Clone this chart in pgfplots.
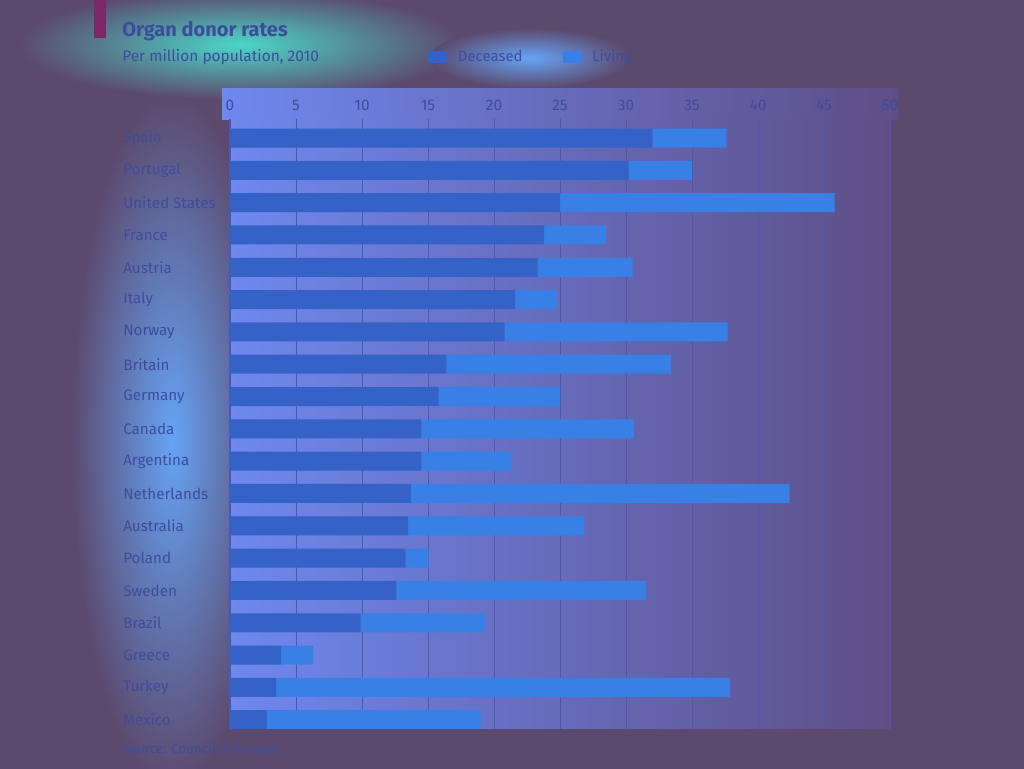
\documentclass[border=0pt]{standalone}
\usepackage{pgfplots}
\pgfplotsset{compat=1.18}
\usepackage{fontspec}
\setmainfont{Fira Sans}
\definecolor{bgc}{HTML}{5C4A6E}
\definecolor{glow}{HTML}{66A4F6}
\definecolor{glowc}{HTML}{4CD6C8}
\definecolor{plotl}{HTML}{6E88EE}
\definecolor{plotr}{HTML}{5E4E86}
\definecolor{dec}{HTML}{3462C6}
\definecolor{liv}{HTML}{3880E6}
\definecolor{txt}{HTML}{3E4C9E}
\definecolor{gridc}{HTML}{5056AA}
\definecolor{tag}{HTML}{7A2868}
\begin{document}
\begin{tikzpicture}
\begin{scope}[x=0.75pt,y=-0.75pt]
\useasboundingbox (0,0) rectangle (1024,768);
\fill[bgc] (-2,-2) rectangle (1026,770);
\begin{scope}
\clip (0,0) rectangle (1024,768);
\shade[inner color=glow,outer color=bgc] (172,440) ellipse [x radius=100,y radius=345];
\shade[inner color=glowc,outer color=bgc] (240,45) ellipse [x radius=220,y radius=55];
\shade[inner color=glow,outer color=bgc] (530,58) ellipse [x radius=100,y radius=30];
\shade[left color=plotl,right color=plotr] (222,88) rectangle (898,119);
\end{scope}
\fill[tag] (94,0) rectangle (106,38);
\node[anchor=west,inner sep=0,text=txt,font=\bfseries\fontsize{15}{17}\selectfont] at (122,31) {Organ donor rates};
\node[anchor=west,inner sep=0,text=txt,font=\fontsize{11.6}{13}\selectfont] at (122,57) {Per million population, 2010};
\node[anchor=west,inner sep=0,text=txt,font=\fontsize{10}{12}\selectfont] at (122,750) {Source: Council of Europe};
\end{scope}
\begin{axis}[
  at={(172.5pt,-88.95pt)}, anchor=north west,
  scale only axis, width=495pt, height=457.6pt,
  xbar stacked, bar width=14.25pt,
  xmin=0, xmax=50, ymin=-0.6, ymax=18.28,
  y dir=reverse,
  axis background/.style={left color=plotl,right color=plotr},
  axis x line*=top, axis y line*=left,
  x axis line style={draw=none},
  y axis line style={draw=gridc,line width=0.8pt},
  xtick={0,5,...,50},
  xticklabels={0,5,10,15,20,25,30,35,40,45,50},
  xmajorgrids, grid style={draw=gridc,line width=0.6pt},
  xtick style={draw=gridc,line width=0.6pt},
  major tick length=4pt,
  ytick={0,...,18}, ytick style={draw=none},
  yticklabels={Spain,Portugal,United States,France,Austria,Italy,Norway,Britain,Germany,Canada,Argentina,Netherlands,Australia,Poland,Sweden,Brazil,Greece,Turkey,Mexico},
  yticklabel style={anchor=west,xshift=-80.25pt,inner sep=0pt,font=\fontsize{11.4}{13}\selectfont,text=txt},
  x tick label style={font=\fontsize{11.5}{13}\selectfont,text=txt,inner sep=3pt,yshift=2.5pt},
  legend style={at={(0.294,1.101)},anchor=west,draw=none,fill=none,legend columns=2,
    font=\fontsize{11.2}{13}\selectfont,text=txt,
    nodes={inner xsep=8pt},
    /tikz/every even column/.append style={column sep=22pt}},
  legend image code/.code={\fill (0pt,-4.5pt) rectangle (14.25pt,4.5pt);},
]
\addplot[fill=dec,draw=none] coordinates {
(32.0,0) (30.2,1) (25.0,2) (23.8,3) (23.3,4) (21.6,5) (20.8,6) (16.4,7) (15.8,8) (14.5,9)
(14.5,10) (13.7,11) (13.5,12) (13.3,13) (12.6,14) (9.9,15) (3.9,16) (3.5,17) (2.8,18)};
\addplot[fill=liv,draw=none] coordinates {
(5.6,0) (4.8,1) (20.8,2) (4.7,3) (7.2,4) (3.2,5) (16.9,6) (17.0,7) (9.2,8) (16.1,9)
(6.8,10) (28.7,11) (13.3,12) (1.75,13) (18.9,14) (9.4,15) (2.4,16) (34.4,17) (16.2,18)};
\legend{Deceased,Living}
\end{axis}
\end{tikzpicture}
\end{document}
